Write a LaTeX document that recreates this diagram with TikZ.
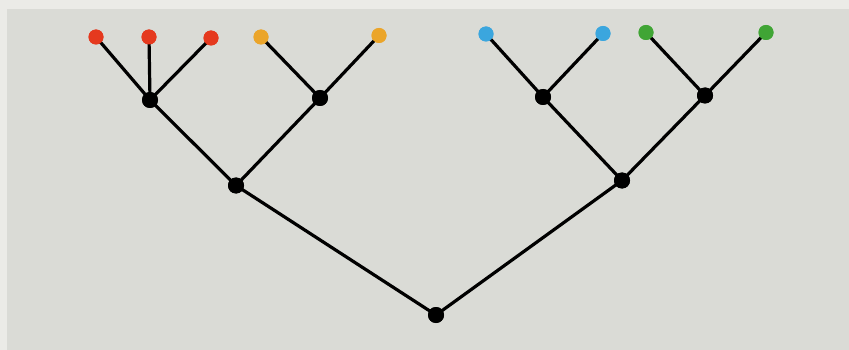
\documentclass[tikz,border=0pt]{standalone}
\definecolor{outerbg}{HTML}{EBEBE7}
\definecolor{innerbg}{HTML}{DADBD6}
\definecolor{leafred}{HTML}{E5391E}
\definecolor{leaforange}{HTML}{EBA52A}
\definecolor{leafblue}{HTML}{3BA6DE}
\definecolor{leafgreen}{HTML}{40A535}
\begin{document}
\begin{tikzpicture}[x=1pt,y=-1pt,
  inner/.style={circle,fill=black,inner sep=0pt,minimum size=16pt},
  leaf/.style={circle,inner sep=0pt,minimum size=15pt},
  branch/.style={line width=3.2pt,black}]
\fill[outerbg] (0,0) rectangle (849,350);
\fill[innerbg] (7,9) rectangle (849,350);
\useasboundingbox (0,0) rectangle (849,350);
% leaves
\node[leaf,fill=leafred] (r1) at (96,37) {};
\node[leaf,fill=leafred] (r2) at (149,37) {};
\node[leaf,fill=leafred] (r3) at (211,38) {};
\node[leaf,fill=leaforange] (o1) at (261,37) {};
\node[leaf,fill=leaforange] (o2) at (379,35.5) {};
\node[leaf,fill=leafblue] (b1) at (486,34) {};
\node[leaf,fill=leafblue] (b2) at (603,33.5) {};
\node[leaf,fill=leafgreen] (g1) at (646,32.5) {};
\node[leaf,fill=leafgreen] (g2) at (766,32.5) {};
% internal
\node[inner] (nr) at (150,100) {};
\node[inner] (no) at (320,98) {};
\node[inner] (nb) at (543,97) {};
\node[inner] (ng) at (705,95.5) {};
\node[inner] (nl) at (236,185.5) {};
\node[inner] (nR) at (622,180.5) {};
\node[inner] (root) at (436,315) {};
% branches
\begin{scope}[on background layer/.style={}]
\draw[branch] (r1.center) -- (nr.center);
\draw[branch] (r2.center) -- (nr.center);
\draw[branch] (r3.center) -- (nr.center);
\draw[branch] (o1.center) -- (no.center);
\draw[branch] (o2.center) -- (no.center);
\draw[branch] (b1.center) -- (nb.center);
\draw[branch] (b2.center) -- (nb.center);
\draw[branch] (g1.center) -- (ng.center);
\draw[branch] (g2.center) -- (ng.center);
\draw[branch] (nr.center) -- (nl.center);
\draw[branch] (no.center) -- (nl.center);
\draw[branch] (nb.center) -- (nR.center);
\draw[branch] (ng.center) -- (nR.center);
\draw[branch] (nl.center) -- (root.center);
\draw[branch] (nR.center) -- (root.center);
\end{scope}
% redraw dots on top
\foreach \n/\c in {r1/leafred,r2/leafred,r3/leafred,o1/leaforange,o2/leaforange,b1/leafblue,b2/leafblue,g1/leafgreen,g2/leafgreen}
  \fill[\c] (\n.center) circle (7.5pt);
\foreach \n in {nr,no,nb,ng,nl,nR,root}
  \fill[black] (\n.center) circle (8pt);
\end{tikzpicture}
\end{document}
